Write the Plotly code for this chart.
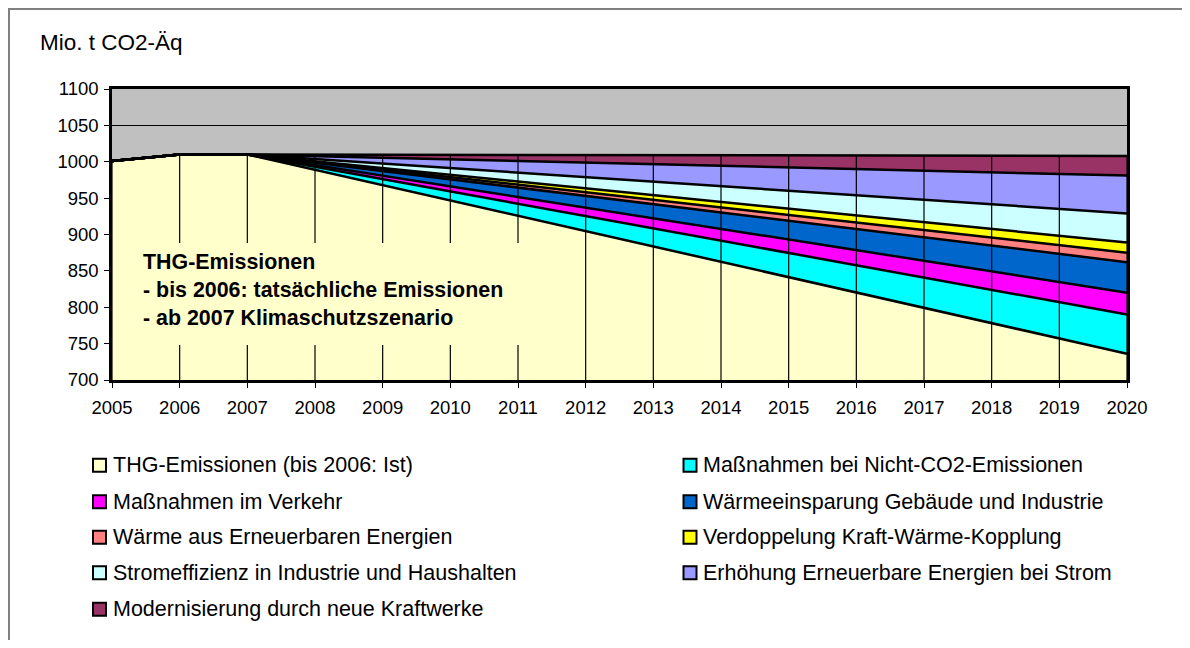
import plotly.graph_objects as go

# ---------------- data ----------------
years = list(range(2005, 2021))
thg = [1001, 1010, 1010, 988.9, 967.8, 946.8, 925.7, 904.6, 883.5, 862.4, 841.4,
       820.3, 799.2, 778.1, 757.0, 736]
nicht_co2 = [0, 0, 0, 4.2, 8.3, 12.5, 16.6, 20.8, 24.9, 29.1, 33.2, 37.4, 41.5, 45.7, 49.8, 54]
verkehr = [0, 0, 0, 2.3, 4.6, 6.9, 9.2, 11.5, 13.8, 16.2, 18.5, 20.8, 23.1, 25.4, 27.7, 30]
waermeeinsparung = [0, 0, 0, 3.2, 6.5, 9.7, 12.9, 16.2, 19.4, 22.6, 25.8, 29.1, 32.3, 35.5, 38.8, 42]
waerme_ee = [0, 0, 0, 1, 2, 3, 4, 5, 6, 7, 8, 9, 10, 11, 12, 13]
kwk = [0, 0, 0, 1.1, 2.2, 3.2, 4.3, 5.4, 6.5, 7.5, 8.6, 9.7, 10.8, 11.8, 12.9, 14]
stromeffizienz = [0, 0, 0, 3.1, 6.2, 9.2, 12.3, 15.4, 18.5, 21.5, 24.6, 27.7, 30.8, 33.8, 36.9, 40]
ee_strom = [0, 0, 0, 4, 8, 12, 16, 20, 24, 28, 32, 36, 40, 44, 48, 52]
modernisierung = [0, 0, 0, 2.1, 4.2, 6.2, 8.3, 10.4, 12.5, 14.5, 16.6, 18.7, 20.8, 22.8, 24.9, 27]

series_names = [
    "THG-Emissionen (bis 2006: Ist)",
    "Maßnahmen bei Nicht-CO2-Emissionen",
    "Maßnahmen im Verkehr",
    "Wärmeeinsparung Gebäude und Industrie",
    "Wärme aus Erneuerbaren Energien",
    "Verdoppelung Kraft-Wärme-Kopplung",
    "Stromeffizienz in Industrie und Haushalten",
    "Erhöhung Erneuerbare Energien bei Strom",
    "Modernisierung durch neue Kraftwerke",
]
series_values = [thg, nicht_co2, verkehr, waermeeinsparung, waerme_ee, kwk,
                 stromeffizienz, ee_strom, modernisierung]
colors = ["#FFFFCC", "#00FFFF", "#FF00FF", "#0066CC", "#FF8080", "#FFFF00",
          "#CCFFFF", "#9999FF", "#993366"]

y_title = "Mio. t CO2-Äq"
box_text = "<b>THG-Emissionen<br>- bis 2006: tatsächliche Emissionen<br>- ab 2007 Klimaschutzszenario</b>"

FONT = "Liberation Sans, Arial, sans-serif"
W, H = 1174, 632
L, R, T, B = 104, 1119, 81, 372  # plot area in figure pixels


def px(x):
    return (x - L) / (R - L)


def py(y):
    return (B - y) / (B - T)


fig = go.Figure()
for name, vals, col in zip(series_names, series_values, colors):
    fig.add_trace(go.Scatter(
        x=years, y=vals, name=name, stackgroup="one", mode="lines",
        line=dict(color="black", width=2.5), fillcolor=col,
        showlegend=False, hoverinfo="x+y+name",
    ))

# drop lines from axis to top of stack
totals = [sum(v[i] for v in series_values) for i in range(len(years))]
dx, dy = [], []
for yr, tot in zip(years, totals):
    dx += [yr, yr, None]
    dy += [700, tot, None]
fig.add_trace(go.Scatter(x=dx, y=dy, mode="lines", line=dict(color="black", width=1.2),
                         showlegend=False, hoverinfo="skip"))

shapes = []
# text box background (hides drop lines)
shapes.append(dict(type="rect", xref="paper", yref="paper", layer="above",
                   x0=px(120), x1=px(540), y0=py(337), y1=py(235),
                   fillcolor="#FFFFCC", line=dict(width=0)))
# outer frame (left and top)
shapes.append(dict(type="line", xref="paper", yref="paper", x0=px(1), x1=px(1),
                   y0=py(0), y1=py(H), line=dict(color="#808080", width=2)))
shapes.append(dict(type="line", xref="paper", yref="paper", x0=px(0), x1=px(1174),
                   y0=py(1), y1=py(1), line=dict(color="#808080", width=2)))

annotations = [
    dict(text=y_title, xref="paper", yref="paper", x=px(30), y=py(35),
         xanchor="left", yanchor="middle", showarrow=False,
         font=dict(family=FONT, size=22.5, color="black")),
    dict(text=box_text, xref="paper", yref="paper", x=px(133), y=py(281.5),
         xanchor="left", yanchor="middle", align="left", showarrow=False,
         font=dict(family=FONT, size=21.4, color="black")),
]

# manual legend: two columns, row-major
col_sq_x = [85, 675.5]
col_txt_x = [102.5, 693]
row_y = [457.3, 493.7, 529.3, 564.7, 601.3]
sq = 13
for i, (name, col) in enumerate(zip(series_names, colors)):
    r, c = divmod(i, 2)
    x0 = col_sq_x[c]
    yc = row_y[r]
    shapes.append(dict(type="rect", xref="paper", yref="paper",
                       x0=px(x0), x1=px(x0 + sq), y0=py(yc + sq / 2), y1=py(yc - sq / 2),
                       fillcolor=col, line=dict(color="black", width=2)))
    annotations.append(dict(text=name, xref="paper", yref="paper",
                            x=px(col_txt_x[c]), y=py(yc), xanchor="left", yanchor="middle",
                            showarrow=False, font=dict(family=FONT, size=21.5, color="black")))

fig.update_layout(
    width=W, height=H,
    margin=dict(l=L, r=W - R, t=T, b=H - B),
    paper_bgcolor="white", plot_bgcolor="#C0C0C0",
    shapes=shapes, annotations=annotations,
    font=dict(family=FONT, color="black"),
    showlegend=False,
)
fig.update_xaxes(range=[2005, 2020], tickmode="array", tickvals=years,
                 ticktext=[str(y) for y in years],
                 showgrid=False, zeroline=False, showline=True, linecolor="black",
                 linewidth=2.5, mirror=True, ticks="outside", ticklen=5,
                 tickcolor="black", tickwidth=1, ticklabelstandoff=4,
                 tickfont=dict(family=FONT, size=18.5))
fig.update_yaxes(range=[700, 1100], dtick=50, tick0=700,
                 showgrid=True, gridcolor="black", gridwidth=1, zeroline=False,
                 showline=True, linecolor="black", linewidth=2.5, mirror=True,
                 ticks="outside", ticklen=5, tickcolor="black", tickwidth=1,
                 ticklabelstandoff=2,
                 tickfont=dict(family=FONT, size=18.5))

fig.write_html("out.html")
